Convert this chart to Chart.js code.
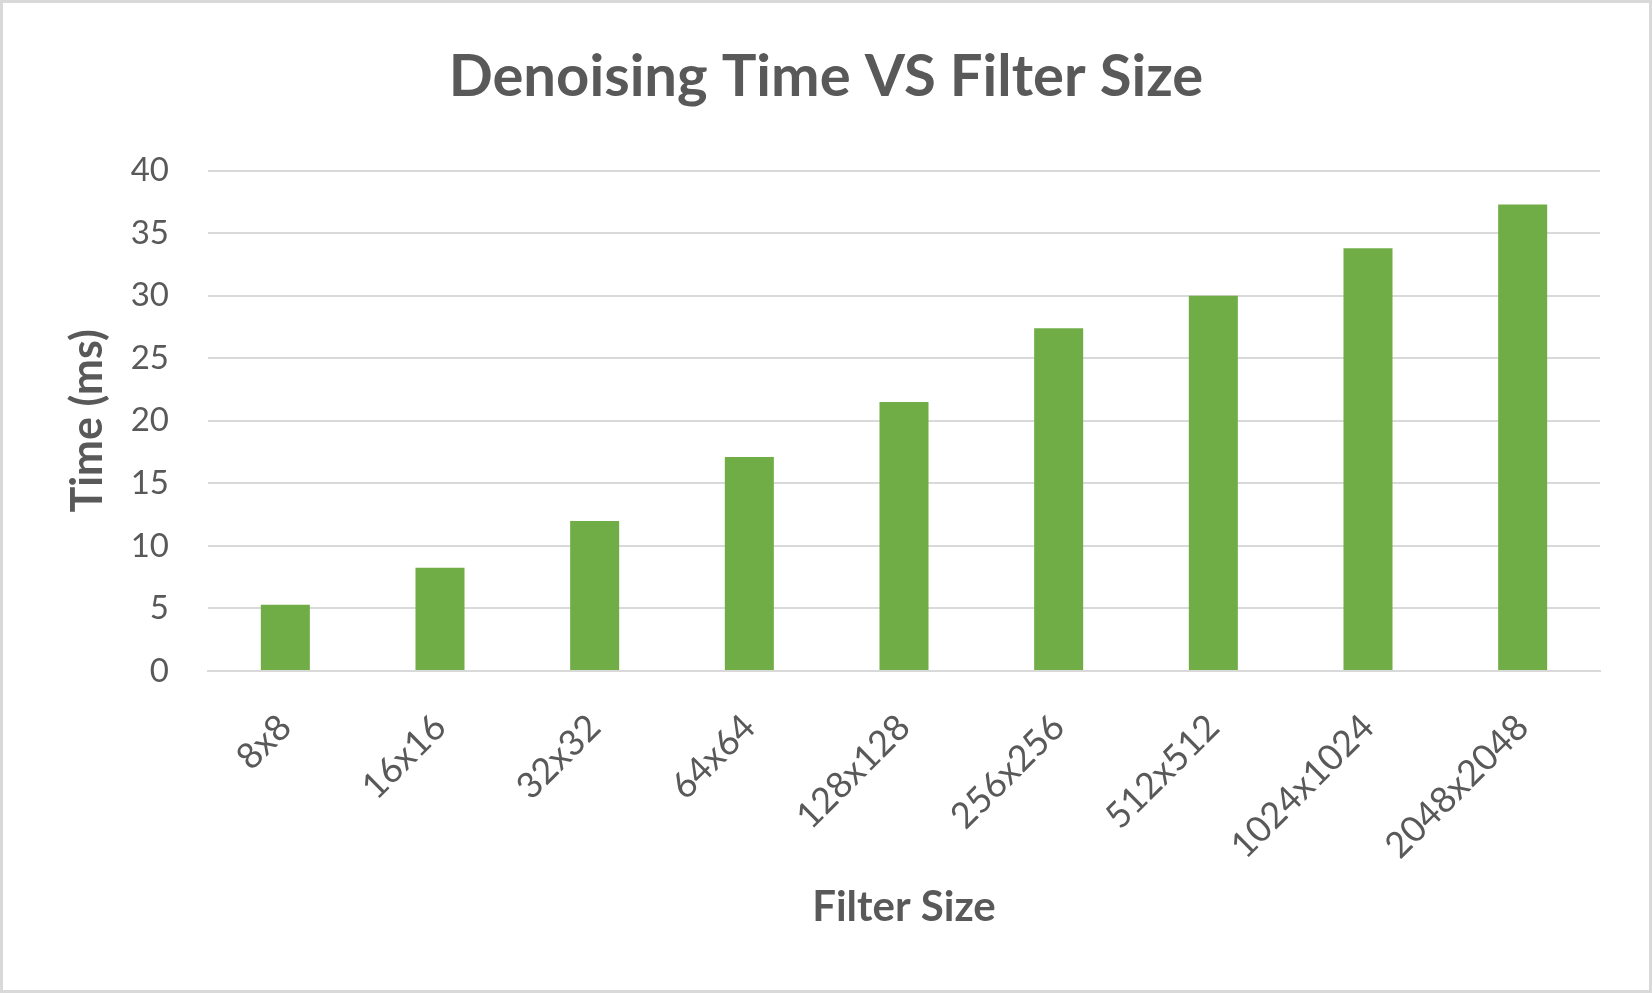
<!DOCTYPE html>
<html lang="en">
<head>
    <meta charset="UTF-8">
    <title>Denoising Time VS Filter Size</title>
    <script src="https://cdn.jsdelivr.net/npm/chart.js"></script>
    <style>
        html, body { margin: 0; padding: 0; background: #ffffff; }
        #grafico { display: block; }
    </style>
</head>
<body>
    <canvas id="grafico" width="1652" height="993"></canvas>

    <script>
        // Data
        const filterSizes = ['8x8', '16x16', '32x32', '64x64', '128x128', '256x256', '512x512', '1024x1024', '2048x2048'];
        const denoisingTimes = [5.3, 8.25, 12.0, 17.1, 21.5, 27.4, 30.0, 33.8, 37.3];
        const yMin = 0;
        const yMax = 40;
        const yStep = 5;

        const textColor = '#595959';
        const gridColor = '#d9d9d9';
        const barColor = '#70ad47';

        // White background and the thin grey frame around the chart
        const frame = {
            id: 'frame',
            beforeDraw(chart) {
                const ctx = chart.ctx;
                ctx.save();
                ctx.fillStyle = '#ffffff';
                ctx.fillRect(0, 0, chart.width, chart.height);
                ctx.strokeStyle = gridColor;
                ctx.lineWidth = 3;
                ctx.strokeRect(1.5, 1.5, chart.width - 3, chart.height - 3);
                ctx.restore();
            }
        };

        const ctx = document.getElementById('grafico').getContext('2d');

        new Chart(ctx, {
            type: 'bar',
            data: {
                labels: filterSizes,
                datasets: [{
                    label: 'Time (ms)',
                    data: denoisingTimes,
                    backgroundColor: barColor,
                    borderWidth: 0,
                    barPercentage: 0.317,
                    categoryPercentage: 1.0
                }]
            },
            options: {
                responsive: false,
                animation: false,
                devicePixelRatio: 1,
                // same padding both sides so the title stays centred on the canvas
                layout: { padding: { left: 52, right: 52, top: 0, bottom: 0 } },
                plugins: {
                    legend: { display: false },
                    tooltip: { enabled: false },
                    title: {
                        display: true,
                        text: 'Denoising Time VS Filter Size',
                        color: textColor,
                        font: { family: 'Lato', size: 58, weight: 'bold', lineHeight: 1.2 },
                        padding: { top: 42, bottom: 59 }
                    }
                },
                scales: {
                    x: {
                        grid: { display: false, drawTicks: false },
                        border: { display: true, color: gridColor, width: 2 },
                        ticks: {
                            color: textColor,
                            font: { family: 'Lato', size: 36 },
                            minRotation: 45,
                            maxRotation: 45,
                            padding: 35
                        },
                        title: {
                            display: true,
                            text: 'Filter Size',
                            color: textColor,
                            font: { family: 'Lato', size: 42, weight: 'bold', lineHeight: 1.2 },
                            padding: { top: 0, bottom: 60 }
                        },
                        afterFit(scale) { scale.height = 322; }
                    },
                    y: {
                        min: yMin,
                        max: yMax,
                        grid: { color: gridColor, lineWidth: 2, drawTicks: false },
                        border: { display: false },
                        ticks: {
                            stepSize: yStep,
                            color: textColor,
                            font: { family: 'Lato', size: 33 },
                            padding: 39
                        },
                        title: {
                            display: true,
                            text: 'Time (ms)',
                            color: textColor,
                            font: { family: 'Lato', size: 43, weight: 'bold', lineHeight: 1.2 },
                            padding: { top: 10, bottom: 0 }
                        },
                        afterFit(scale) { scale.width = 156; }
                    }
                }
            },
            plugins: [frame]
        });
    </script>
</body>
</html>
